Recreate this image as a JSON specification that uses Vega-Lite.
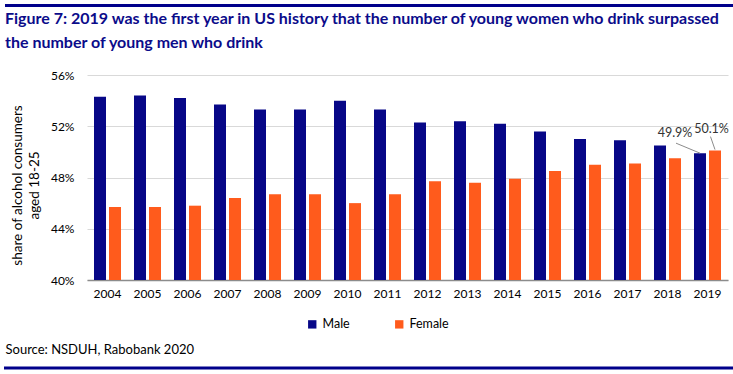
{
  "$schema": "https://vega.github.io/schema/vega-lite/v6.json",
  "width": 641,
  "height": 205,
  "autosize": {"type": "none"},
  "padding": {"left": 87, "top": 75, "right": 5, "bottom": 94},
  "background": "white",
  "title": {
    "text": ["Figure 7: 2019 was the first year in US history that the number of young women who drink surpassed", "the number of young men who drink"],
    "anchor": "start",
    "frame": "group",
    "dx": -82,
    "offset": -63,
    "baseline": "bottom",
    "font": "Lato",
    "fontSize": 16,
    "fontWeight": "bold",
    "color": "#0b0b8a",
    "lineHeight": 24
  },
  "config": {
    "font": "Lato",
    "view": {"stroke": null},
    "axis": {"labelFont": "Lato", "labelFontSize": 12, "labelColor": "#000", "titleFont": "Lato", "titleColor": "#000", "titleFontWeight": "normal"}
  },
  "datasets": {
    "shares": [
      {"year": "2004", "sex": "Male", "value": 54.3}, {"year": "2004", "sex": "Female", "value": 45.7},
      {"year": "2005", "sex": "Male", "value": 54.4}, {"year": "2005", "sex": "Female", "value": 45.7},
      {"year": "2006", "sex": "Male", "value": 54.2}, {"year": "2006", "sex": "Female", "value": 45.8},
      {"year": "2007", "sex": "Male", "value": 53.7}, {"year": "2007", "sex": "Female", "value": 46.4},
      {"year": "2008", "sex": "Male", "value": 53.3}, {"year": "2008", "sex": "Female", "value": 46.7},
      {"year": "2009", "sex": "Male", "value": 53.3}, {"year": "2009", "sex": "Female", "value": 46.7},
      {"year": "2010", "sex": "Male", "value": 54.0}, {"year": "2010", "sex": "Female", "value": 46.0},
      {"year": "2011", "sex": "Male", "value": 53.3}, {"year": "2011", "sex": "Female", "value": 46.7},
      {"year": "2012", "sex": "Male", "value": 52.3}, {"year": "2012", "sex": "Female", "value": 47.7},
      {"year": "2013", "sex": "Male", "value": 52.4}, {"year": "2013", "sex": "Female", "value": 47.6},
      {"year": "2014", "sex": "Male", "value": 52.2}, {"year": "2014", "sex": "Female", "value": 47.9},
      {"year": "2015", "sex": "Male", "value": 51.6}, {"year": "2015", "sex": "Female", "value": 48.5},
      {"year": "2016", "sex": "Male", "value": 51.0}, {"year": "2016", "sex": "Female", "value": 49.0},
      {"year": "2017", "sex": "Male", "value": 50.9}, {"year": "2017", "sex": "Female", "value": 49.1},
      {"year": "2018", "sex": "Male", "value": 50.5}, {"year": "2018", "sex": "Female", "value": 49.5},
      {"year": "2019", "sex": "Male", "value": 49.9}, {"year": "2019", "sex": "Female", "value": 50.1}
    ]
  },
  "data": {"name": "shares"},
  "layer": [
    {
      "mark": {"type": "bar"},
      "encoding": {
        "x": {
          "field": "year", "type": "nominal",
          "scale": {"paddingInner": 0.325, "paddingOuter": 0.175},
          "axis": {
            "labelAngle": 0, "ticks": false, "labelPadding": 8,
            "domainColor": "#8c8c8c", "domainWidth": 1.5,
            "title": "Source: NSDUH, Rabobank 2020",
            "titleFontSize": 13, "titleAlign": "left", "titleBaseline": "middle",
            "titleX": -82, "titleY": 69, "titleAnchor": "start"
          }
        },
        "xOffset": {"field": "sex", "type": "nominal", "sort": ["Male", "Female"], "scale": {"paddingInner": 0.2}},
        "y": {
          "field": "value", "type": "quantitative",
          "scale": {"domain": [40, 56], "zero": false, "nice": false},
          "axis": {
            "values": [40, 44, 48, 52, 56],
            "labelExpr": "datum.value + '%'",
            "domain": false, "ticks": false, "labelPadding": 13,
            "gridColor": "#d9d9d9", "gridWidth": 1,
            "title": ["share of alcohol consumers", "aged 18-25"],
            "titleFontSize": 13.5, "titlePadding": 9, "titleLineHeight": 17, "titleY": 110
          }
        },
        "y2": {"datum": 40},
        "color": {
          "field": "sex", "type": "nominal",
          "scale": {"domain": ["Male", "Female"], "range": ["#070787", "#ff5b1c"]},
          "legend": {
            "title": null, "orient": "none", "direction": "horizontal",
            "legendX": 219, "legendY": 243,
            "symbolType": "square", "symbolSize": 70, "symbolStrokeWidth": 0,
            "labelFontSize": 12.5, "labelColor": "#000", "labelFont": "Lato",
            "columnPadding": 43, "labelOffset": 4
          }
        }
      }
    },
    {
      "transform": [{"filter": "datum.year == '2019' && datum.sex == 'Male'"}],
      "mark": {"type": "rule", "color": "#8c8c8c", "strokeWidth": 1, "xOffset": -31.5, "yOffset": -10, "x2Offset": -7.5, "y2Offset": 0},
      "encoding": {
        "x": {"field": "year", "type": "nominal", "bandPosition": 0.5},
        "x2": {"field": "year", "bandPosition": 0.5},
        "y": {"field": "value", "type": "quantitative"},
        "y2": {"field": "value"}
      }
    },
    {
      "transform": [{"filter": "datum.year == '2019' && datum.sex == 'Female'"}],
      "mark": {"type": "rule", "color": "#8c8c8c", "strokeWidth": 1, "xOffset": 3, "yOffset": -14, "x2Offset": 7.5, "y2Offset": -1},
      "encoding": {
        "x": {"field": "year", "type": "nominal", "bandPosition": 0.5},
        "x2": {"field": "year", "bandPosition": 0.5},
        "y": {"field": "value", "type": "quantitative"},
        "y2": {"field": "value"}
      }
    },
    {
      "transform": [{"filter": "datum.year == '2019' && datum.sex == 'Male'"}, {"calculate": "format(datum.value, '.1f') + '%'", "as": "label"}],
      "mark": {"type": "text", "font": "Lato", "fontSize": 12.5, "color": "#333", "dx": -32.5, "dy": -20, "baseline": "middle"},
      "encoding": {
        "x": {"field": "year", "type": "nominal", "bandPosition": 0.5},
        "y": {"field": "value", "type": "quantitative"},
        "text": {"field": "label", "type": "nominal"}
      }
    },
    {
      "transform": [{"filter": "datum.year == '2019' && datum.sex == 'Female'"}, {"calculate": "format(datum.value, '.1f') + '%'", "as": "label"}],
      "mark": {"type": "text", "font": "Lato", "fontSize": 12.5, "color": "#333", "dx": 4, "dy": -22, "baseline": "middle"},
      "encoding": {
        "x": {"field": "year", "type": "nominal", "bandPosition": 0.5},
        "y": {"field": "value", "type": "quantitative"},
        "text": {"field": "label", "type": "nominal"}
      }
    },
    {
      "data": {"values": [{"edge": "top"}]},
      "mark": {"type": "rule", "color": "#00008b", "strokeWidth": 3, "xOffset": -89, "x2Offset": 12, "clip": false},
      "encoding": {
        "x": {"datum": "2004", "type": "nominal", "bandPosition": 0},
        "x2": {"datum": "2019", "bandPosition": 1},
        "y": {"datum": 61.42}
      }
    },
    {
      "data": {"values": [{"edge": "bottom"}]},
      "mark": {"type": "rule", "color": "#00008b", "strokeWidth": 3, "xOffset": -90, "x2Offset": 12, "clip": false},
      "encoding": {
        "x": {"datum": "2004", "type": "nominal", "bandPosition": 0},
        "x2": {"datum": "2019", "bandPosition": 1},
        "y": {"datum": 33.14}
      }
    }
  ]
}
